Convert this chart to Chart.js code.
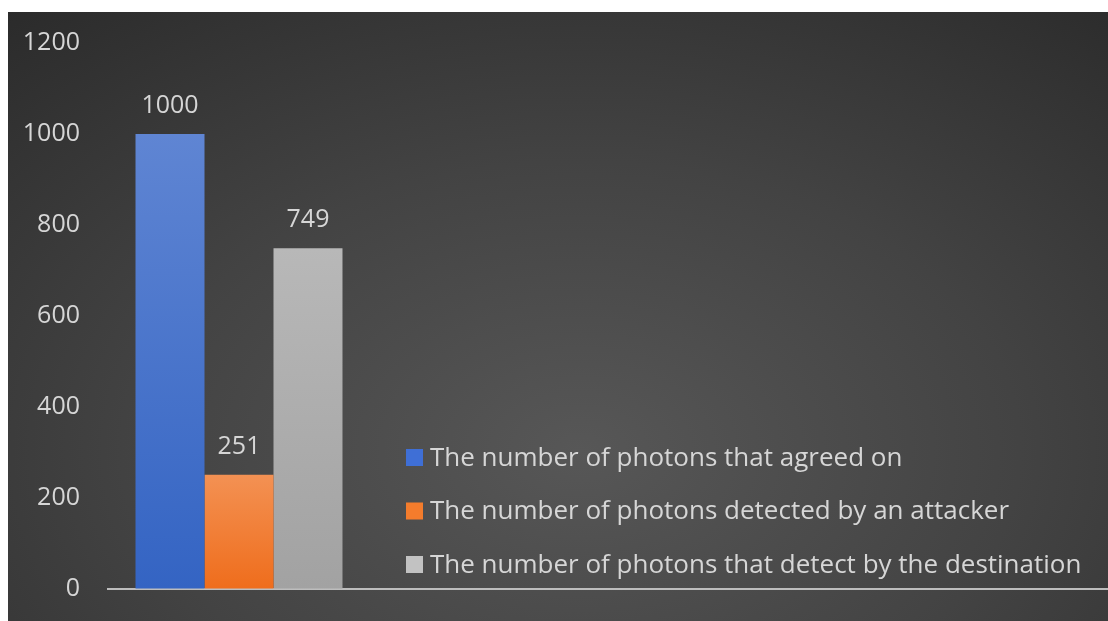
<!DOCTYPE html>
<html>
<head>
<meta charset="utf-8">
<script src="https://cdn.jsdelivr.net/npm/chart.js@4.4.1/dist/chart.umd.min.js"></script>
<style>
  html, body { margin: 0; padding: 0; background: #fff; overflow: hidden; width: 1108px; height: 621px; }
  #frame {
    position: absolute; left: 8px; top: 12px; width: 1100px; height: 609px; overflow: hidden;
    background: radial-gradient(ellipse 80% 95% at 52% 72%, #575757 0%, #434343 50%, #2b2b2b 100%);
  }
  #wrap { position: absolute; left: 0; top: 0; width: 1160px; height: 609px; }
</style>
</head>
<body>
<div id="frame"><div id="wrap"><canvas id="chart"></canvas></div></div>
<script>
const categories = ['', '', '', ''];
const seriesNames = [
  'The number of photons that agreed on',
  'The number of photons detected by an attacker',
  'The number of photons that detect by the destination'
];
const agreed = [1000, null, null, null];
const attacker = [251, null, null, null];
const destination = [749, null, null, null];
const yTicks = [0, 200, 400, 600, 800, 1000, 1200];

const FONT = "'Open Sans', 'Noto Sans', sans-serif";
const TEXT = '#d6d6d6';

// top/bottom shades for each bar and the flat swatch used in the legend
const palette = [
  { top: '#5f85d3', bottom: '#3464c3', swatch: '#3f6fd6' },
  { top: '#f39153', bottom: '#ef6d1c', swatch: '#f47c2c' },
  { top: '#b8b8b8', bottom: '#a2a2a2', swatch: '#c2c2c2' }
];

const barFill = (top, bottom) => (ctx) => {
  const chart = ctx.chart;
  if (!chart.chartArea || ctx.type !== 'data' || ctx.raw == null) return bottom;
  const y = chart.scales.y;
  const g = chart.ctx.createLinearGradient(0, y.getPixelForValue(ctx.raw), 0, y.getPixelForValue(0));
  g.addColorStop(0, top);
  g.addColorStop(1, bottom);
  return g;
};

const valueLabels = {
  id: 'valueLabels',
  afterDatasetsDraw(chart) {
    const ctx = chart.ctx;
    ctx.save();
    ctx.font = `25px ${FONT}`;
    ctx.fillStyle = TEXT;
    ctx.textAlign = 'center';
    ctx.textBaseline = 'middle';
    chart.data.datasets.forEach((ds, i) => {
      chart.getDatasetMeta(i).data.forEach((bar, j) => {
        if (ds.data[j] == null) return;
        ctx.fillText(String(ds.data[j]), bar.x, bar.y - 28);
      });
    });
    ctx.restore();
  }
};

const sideLegend = {
  id: 'sideLegend',
  afterDraw(chart) {
    const ctx = chart.ctx;
    ctx.save();
    ctx.font = `26px ${FONT}`;
    ctx.textBaseline = 'middle';
    chart.data.datasets.forEach((ds, i) => {
      const cy = 445.5 + i * 53.5;
      ctx.fillStyle = palette[i].swatch;
      ctx.fillRect(398, cy - 8.5, 17, 17);
      ctx.fillStyle = TEXT;
      ctx.fillText(ds.label, 422, cy + 1);
    });
    ctx.restore();
  }
};

const series = [agreed, attacker, destination];

new Chart(document.getElementById('chart'), {
  type: 'bar',
  data: {
    labels: categories,
    datasets: series.map((values, i) => ({
      label: seriesNames[i],
      data: values,
      backgroundColor: barFill(palette[i].top, palette[i].bottom),
      borderWidth: 0,
      categoryPercentage: 0.79,
      barPercentage: 1
    }))
  },
  options: {
    responsive: true,
    maintainAspectRatio: false,
    animation: false,
    layout: { padding: { top: 31, right: 12, left: 0, bottom: 0 } },
    plugins: {
      legend: { display: false },
      tooltip: { enabled: false }
    },
    scales: {
      x: {
        grid: { display: false },
        border: { display: true, color: '#bdbdbd', width: 2 },
        ticks: { display: false },
        afterFit(scale) { scale.height = 32; }
      },
      y: {
        min: 0,
        max: 1200,
        afterBuildTicks(scale) { scale.ticks = yTicks.map(v => ({ value: v })); },
        // invisible tick marks push the labels away from the plot
        grid: { display: true, drawOnChartArea: false, drawTicks: true, tickLength: 25, color: 'rgba(0,0,0,0)' },
        border: { display: false },
        ticks: {
          color: TEXT,
          padding: 3,
          font: { family: FONT, size: 25 },
          callback: (v) => String(v)
        },
        afterFit(scale) { scale.width = 100; }
      }
    }
  },
  plugins: [valueLabels, sideLegend]
});
</script>
</body>
</html>
